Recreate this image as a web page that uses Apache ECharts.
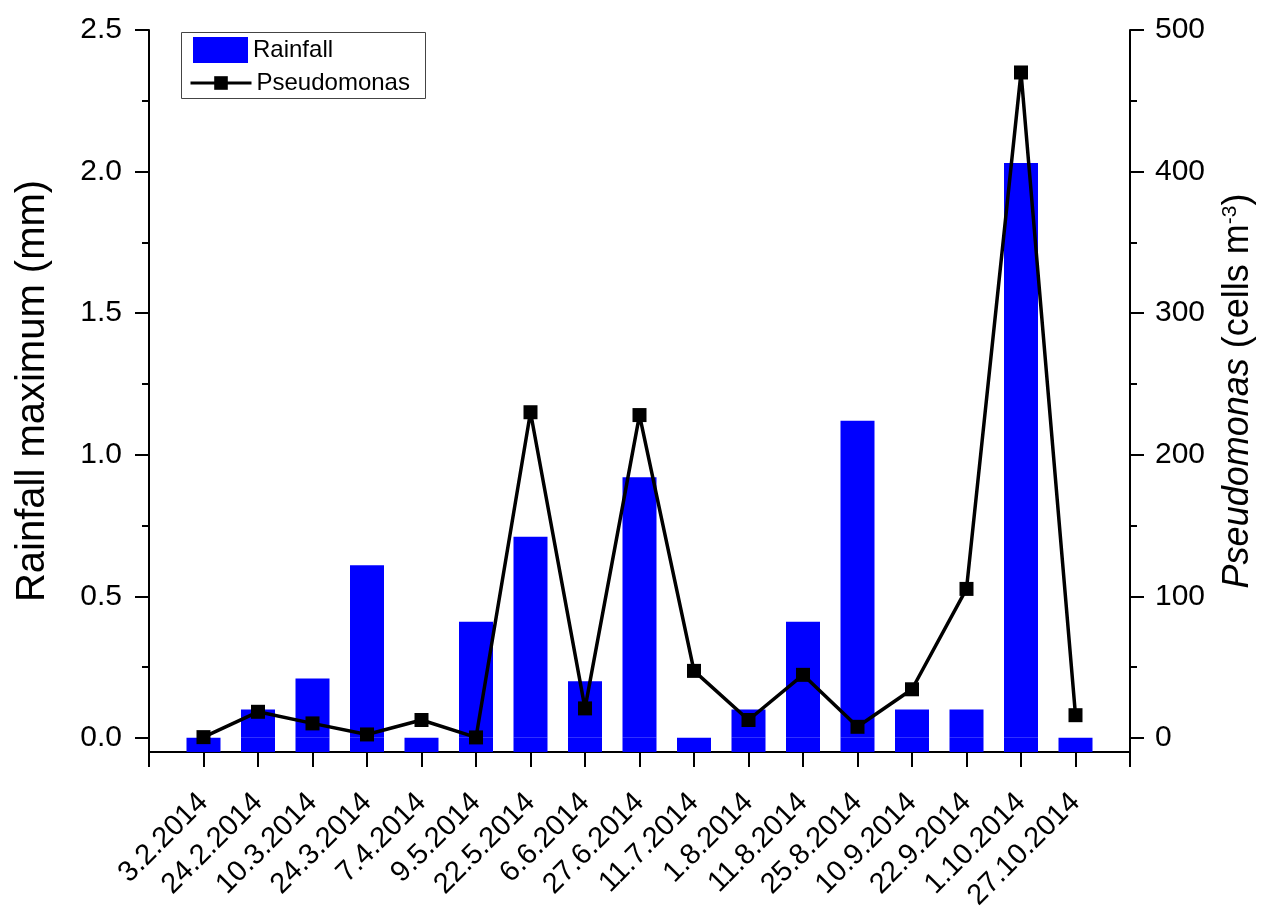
<!DOCTYPE html>
<html>
<head>
<meta charset="utf-8">
<script src="https://cdn.jsdelivr.net/npm/echarts@6/dist/echarts.min.js"></script>
<style>
html,body{margin:0;padding:0;background:#fff;}
#chart{width:1270px;height:918px;}
</style>
</head>
<body>
<div id="chart"></div>
<script>
// ---- data ----
const categories = ['3.2.2014','24.2.2014','10.3.2014','24.3.2014','7.4.2014','9.5.2014','22.5.2014','6.6.2014','27.6.2014','11.7.2014','1.8.2014','11.8.2014','25.8.2014','10.9.2014','22.9.2014','1.10.2014','27.10.2014'];
const rainfall = [0, 0.1, 0.21, 0.61, 0, 0.41, 0.71, 0.2, 0.92, 0, 0.1, 0.41, 1.12, 0.1, 0.1, 2.03, 0];
const pseudomonas = [0.5, 18.4, 10.2, 2.4, 12.6, 0.3, 230, 20.8, 228, 47.3, 12.6, 44.5, 7.8, 34.3, 105.2, 470, 16];
const leftTicks = [0, 0.5, 1.0, 1.5, 2.0, 2.5];
const leftMinor = [0.25, 0.75, 1.25, 1.75, 2.25];
const rightTicks = [0, 100, 200, 300, 400, 500];
const rightMinor = [50, 150, 250, 350, 450];

// ---- axis ranges ----
const LEFT_MIN = -0.05, LEFT_MAX = 2.5;
const RIGHT_MIN = -10, RIGHT_MAX = 500;

const FONT = '"Liberation Sans", Arial, sans-serif';
const pad = arr => ['-', ...arr, '-'];
const xCats = ['', ...categories, ''];

const chart = echarts.init(document.getElementById('chart'), null, {renderer: 'canvas'});

const axisLineStyle = {color: '#000', width: 2};
const legendText = {fontFamily: FONT, fontSize: 24, color: '#000'};

const option = {
  backgroundColor: '#fff',
  animation: false,
  textStyle: {fontFamily: FONT, color: '#000'},
  grid: {left: 149, right: 140, top: 30, bottom: 166, containLabel: false},
  graphic: [{
    type: 'rect', left: 181, top: 32, z: 10, silent: true,
    shape: {width: 244, height: 66},
    style: {fill: '#fff', stroke: '#444', lineWidth: 1}
  }],
  legend: [
    {
      left: 193, top: 37, padding: 0,
      itemWidth: 55, itemHeight: 26, icon: 'rect',
      textStyle: legendText, z: 11,
      data: ['Rainfall']
    },
    {
      left: 189, top: 71, padding: 0,
      itemWidth: 61, itemHeight: 17,
      lineStyle: {width: 3},
      textStyle: legendText, z: 11,
      data: ['Pseudomonas']
    }
  ],
  xAxis: {
    type: 'category',
    data: xCats,
    boundaryGap: false,
    axisLine: {onZero: false, lineStyle: axisLineStyle},
    axisTick: {show: true, interval: 0, length: 15, inside: false, lineStyle: {color: '#000', width: 2}},
    axisLabel: {interval: 0, rotate: 45, margin: 46, fontSize: 29, color: '#000', fontFamily: FONT},
    splitLine: {show: false}
  },
  yAxis: [
    {
      type: 'value', position: 'left', min: LEFT_MIN, max: LEFT_MAX,
      name: 'Rainfall maximum (mm)', nameLocation: 'middle', nameRotate: 90, nameGap: 96,
      nameTextStyle: {fontSize: 40, color: '#000', fontFamily: FONT},
      axisLine: {show: true, lineStyle: axisLineStyle},
      axisTick: {show: true, length: 14, customValues: leftTicks, lineStyle: {color: '#000', width: 2}},
      axisLabel: {customValues: leftTicks, margin: 27, fontSize: 30, color: '#000', fontFamily: FONT,
                  formatter: v => v.toFixed(1)},
      splitLine: {show: false}
    },
    {
      type: 'value', position: 'right', min: RIGHT_MIN, max: RIGHT_MAX,
      name: '{i|Pseudomonas} (cells m{sup|-3})', nameLocation: 'middle', nameRotate: 90, nameGap: 90,
      nameTextStyle: {fontSize: 36, color: '#000', fontFamily: FONT,
        rich: {
          i: {fontSize: 36, fontStyle: 'italic', fontFamily: FONT, color: '#000'},
          sup: {fontSize: 21, fontFamily: FONT, color: '#000', verticalAlign: 'top', padding: [0, 0, 14, 0]}
        }},
      axisLine: {show: true, lineStyle: axisLineStyle},
      axisTick: {show: true, length: 14, customValues: rightTicks, lineStyle: {color: '#000', width: 2}},
      axisLabel: {customValues: rightTicks, margin: 25, fontSize: 30, color: '#000', fontFamily: FONT},
      splitLine: {show: false}
    },
    {
      type: 'value', position: 'left', min: LEFT_MIN, max: LEFT_MAX,
      axisLine: {show: false},
      axisTick: {show: true, length: 7, customValues: leftMinor, lineStyle: {color: '#000', width: 2}},
      axisLabel: {show: false},
      splitLine: {show: false}
    },
    {
      type: 'value', position: 'right', min: RIGHT_MIN, max: RIGHT_MAX,
      axisLine: {show: false},
      axisTick: {show: true, length: 7, customValues: rightMinor, lineStyle: {color: '#000', width: 2}},
      axisLabel: {show: false},
      splitLine: {show: false}
    }
  ],
  series: [
    {
      // fills each bar down to the bottom of the axis frame
      type: 'bar', yAxisIndex: 0, silent: true, legendHoverLink: false,
      data: pad(rainfall.map(() => LEFT_MIN)),
      barWidth: 34, barGap: '-100%', z: 1,
      itemStyle: {color: '#0000ff'}
    },
    {
      name: 'Rainfall', type: 'bar', yAxisIndex: 0,
      data: pad(rainfall),
      barWidth: 34, barGap: '-100%', z: 2,
      itemStyle: {color: '#0000ff'}
    },
    {
      name: 'Pseudomonas', type: 'line', yAxisIndex: 1,
      data: pad(pseudomonas),
      symbol: 'rect', symbolSize: 14, z: 5,
      lineStyle: {color: '#000', width: 3.5},
      itemStyle: {color: '#000'}
    }
  ]
};
chart.setOption(option);
</script>
</body>
</html>
